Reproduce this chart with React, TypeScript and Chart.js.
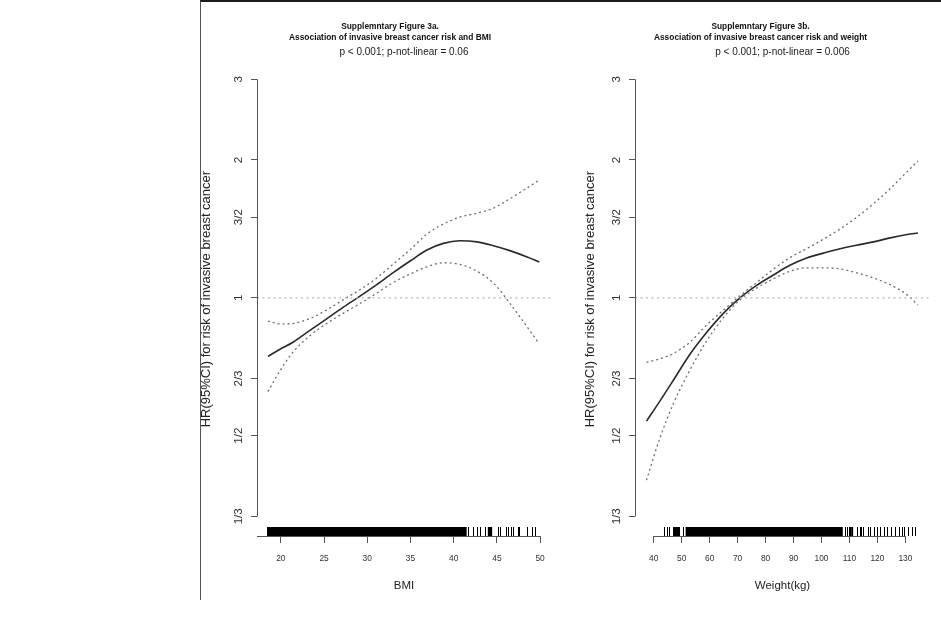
import { useEffect, useRef } from 'react';
import { Chart, registerables } from 'chart.js';

Chart.register(...registerables);

const FONT = '"Liberation Sans", Arial, Helvetica, sans-serif';

// ---- shared hazard-ratio axis (log scale) ----
const Y_TICKS = [1 / 3, 1 / 2, 2 / 3, 1, 3 / 2, 2, 3];
const Y_TICK_LABELS = ['1/3', '1/2', '2/3', '1', '3/2', '2', '3'];
const Y_MIN = 0.302;
const Y_MAX = 3.27;
const Y_TITLE = 'HR(95%CI) for risk of invasive breast cancer';
const REFERENCE_HR = 1;

// ---- panel a: BMI ----
const BMI = [18.5, 19.9, 21.4, 23.4, 25.3, 27.2, 29.2, 31.1, 33.0, 35.0, 36.9, 38.8, 40.7, 42.7, 44.6, 46.5, 48.5, 49.9];
const BMI_HR = [0.745, 0.772, 0.8, 0.85, 0.9, 0.953, 1.01, 1.069, 1.135, 1.205, 1.272, 1.315, 1.332, 1.325, 1.3, 1.268, 1.228, 1.197];
const BMI_UPPER = [0.89, 0.877, 0.879, 0.902, 0.941, 0.99, 1.043, 1.105, 1.185, 1.276, 1.378, 1.449, 1.5, 1.531, 1.57, 1.646, 1.738, 1.807];
const BMI_LOWER = [0.624, 0.693, 0.761, 0.828, 0.879, 0.925, 0.973, 1.024, 1.08, 1.128, 1.169, 1.193, 1.183, 1.143, 1.077, 0.973, 0.864, 0.794];
const BMI_TICKS = [20, 25, 30, 35, 40, 45, 50];
const BMI_MIN = 17.24;
const BMI_MAX = 51.26;
const BMI_RUG_BLOCKS = [[18.4, 41.5], [43.95, 44.45]];
const BMI_RUG_TICKS = [41.7, 42.2, 42.7, 43.1, 43.6, 45.1, 45.4, 46.1, 46.3, 46.6, 46.85, 47.4, 47.6, 48.5, 49.05, 49.4];
const BMI_TITLE = ['Supplemntary Figure 3a.', 'Association of invasive breast cancer risk and BMI'];
const BMI_SUBTITLE = 'p < 0.001; p-not-linear = 0.06';
const BMI_XTITLE = 'BMI';

// ---- panel b: weight ----
const WEIGHT = [37.4, 42.2, 46.9, 52.9, 58.9, 64.9, 70.8, 76.8, 82.8, 88.7, 94.7, 100.7, 106.6, 112.6, 118.6, 124.6, 130.6, 134.5];
const WEIGHT_HR = [0.538, 0.595, 0.659, 0.752, 0.84, 0.925, 1.0, 1.065, 1.122, 1.178, 1.222, 1.252, 1.28, 1.303, 1.325, 1.352, 1.375, 1.386];
const WEIGHT_UPPER = [0.723, 0.736, 0.755, 0.8, 0.872, 0.94, 1.01, 1.08, 1.155, 1.224, 1.281, 1.343, 1.413, 1.5, 1.605, 1.732, 1.885, 1.99];
const WEIGHT_LOWER = [0.4, 0.494, 0.585, 0.695, 0.805, 0.905, 0.99, 1.05, 1.1, 1.143, 1.163, 1.163, 1.157, 1.134, 1.105, 1.068, 1.015, 0.965];
const WEIGHT_TICKS = [40, 50, 60, 70, 80, 90, 100, 110, 120, 130];
const WEIGHT_MIN = 33.3;
const WEIGHT_MAX = 138.8;
const WEIGHT_RUG_BLOCKS = [[46.9, 49.4], [51.4, 107.6], [110.6, 111.3]];
const WEIGHT_RUG_TICKS = [43.6, 44.6, 45.5, 50.3, 108.5, 109.2, 109.7, 110.2, 112.65, 113.6, 114.3, 115.0, 116.45, 117.4, 118.6, 120.0, 121.0, 122.4, 123.6, 124.8, 126.4, 127.6, 128.8, 129.6, 131.1, 132.4, 133.5];
const WEIGHT_TITLE = ['Supplemntary Figure 3b.', 'Association of invasive breast cancer risk and weight'];
const WEIGHT_SUBTITLE = 'p < 0.001; p-not-linear = 0.006';
const WEIGHT_XTITLE = 'Weight(kg)';

type PanelDef = {
  x: number[];
  hr: number[];
  upper: number[];
  lower: number[];
  ticks: number[];
  min: number;
  max: number;
  rugBlocks: number[][];
  rugTicks: number[];
  title: string[];
  subtitle: string;
  xTitle: string;
  axisFromMin: boolean;
  layout: { yAxisWidth: number; gutter: number; yTitlePad: number; canvasWidth: number; left: number };
};

const PANEL_A: PanelDef = {
  x: BMI, hr: BMI_HR, upper: BMI_UPPER, lower: BMI_LOWER, ticks: BMI_TICKS,
  min: BMI_MIN, max: BMI_MAX, rugBlocks: BMI_RUG_BLOCKS, rugTicks: BMI_RUG_TICKS,
  title: BMI_TITLE, subtitle: BMI_SUBTITLE, xTitle: BMI_XTITLE, axisFromMin: true,
  layout: { yAxisWidth: 57, gutter: 29, yTitlePad: 0.8, canvasWidth: 380, left: 200 },
};

const PANEL_B: PanelDef = {
  x: WEIGHT, hr: WEIGHT_HR, upper: WEIGHT_UPPER, lower: WEIGHT_LOWER, ticks: WEIGHT_TICKS,
  min: WEIGHT_MIN, max: WEIGHT_MAX, rugBlocks: WEIGHT_RUG_BLOCKS, rugTicks: WEIGHT_RUG_TICKS,
  title: WEIGHT_TITLE, subtitle: WEIGHT_SUBTITLE, xTitle: WEIGHT_XTITLE, axisFromMin: false,
  layout: { yAxisWidth: 55, gutter: 11, yTitlePad: 4.8, canvasWidth: 361, left: 580 },
};

const CANVAS_H = 600;
const X_AXIS_H = 64;
const RUG_H = 9;
const AXIS_COLOR = '#555';

function makeRPlugin(p: PanelDef) {
  return {
    id: 'rStyle',
    afterDraw(chart: any) {
      const { ctx, chartArea } = chart;
      const xs = chart.scales.x;
      const ys = chart.scales.y;
      const bottom = chartArea.bottom;
      ctx.save();
      // rug of observations
      ctx.fillStyle = '#000';
      for (const [a, b] of p.rugBlocks) {
        const xa = xs.getPixelForValue(a);
        const xb = xs.getPixelForValue(b);
        ctx.fillRect(xa, bottom - RUG_H, xb - xa, RUG_H);
      }
      ctx.strokeStyle = '#000';
      ctx.lineWidth = 1;
      for (const v of p.rugTicks) {
        const px = Math.round(xs.getPixelForValue(v)) + 0.5;
        ctx.beginPath();
        ctx.moveTo(px, bottom - RUG_H);
        ctx.lineTo(px, bottom);
        ctx.stroke();
      }
      // R-style axis lines spanning the ticks
      ctx.strokeStyle = AXIS_COLOR;
      ctx.lineWidth = 1;
      const ax = Math.round(chartArea.left) + 0.5;
      ctx.beginPath();
      ctx.moveTo(ax, ys.getPixelForValue(Y_TICKS[Y_TICKS.length - 1]));
      ctx.lineTo(ax, ys.getPixelForValue(Y_TICKS[0]));
      ctx.stroke();
      const ay = Math.round(bottom) + 0.5;
      const xStart = p.axisFromMin ? xs.getPixelForValue(p.min) : xs.getPixelForValue(p.ticks[0]);
      ctx.beginPath();
      ctx.moveTo(xStart, ay);
      ctx.lineTo(xs.getPixelForValue(p.ticks[p.ticks.length - 1]), ay);
      ctx.stroke();
      ctx.restore();
    },
  };
}

function buildConfig(p: PanelDef): any {
  const pts = (ys: number[]) => p.x.map((x, i) => ({ x, y: ys[i] }));
  const dotted = {
    xAxisID: 'x',
    yAxisID: 'y',
    borderColor: '#6f6f6f',
    borderWidth: 1.3,
    borderDash: [2, 3],
    pointRadius: 0,
    cubicInterpolationMode: 'monotone',
    fill: false,
  };
  return {
    type: 'line',
    data: {
      datasets: [
        {
          label: 'reference',
          xAxisID: 'x',
          yAxisID: 'y',
          data: [{ x: p.min, y: REFERENCE_HR }, { x: p.max, y: REFERENCE_HR }],
          borderColor: '#b9b9b9',
          borderWidth: 1.2,
          borderDash: [2, 3.5],
          pointRadius: 0,
          tension: 0,
        },
        { label: 'upper 95% CI', data: pts(p.upper), ...dotted },
        { label: 'lower 95% CI', data: pts(p.lower), ...dotted },
        {
          label: 'HR',
          xAxisID: 'x',
          yAxisID: 'y',
          data: pts(p.hr),
          borderColor: '#2a2a2a',
          borderWidth: 1.6,
          pointRadius: 0,
          cubicInterpolationMode: 'monotone',
          fill: false,
        },
      ],
    },
    options: {
      animation: false,
      responsive: false,
      maintainAspectRatio: false,
      events: [],
      layout: { padding: 0 },
      plugins: {
        legend: { display: false },
        tooltip: { enabled: false },
        title: {
          display: true,
          text: p.title,
          color: '#111',
          font: { family: FONT, size: 8.4, weight: 'bold', lineHeight: 1.38 },
          padding: { top: 20.5, bottom: 0 },
        },
        subtitle: {
          display: true,
          text: p.subtitle,
          fullSize: false,
          color: '#222',
          font: { family: FONT, size: 10, lineHeight: 1.1 },
          padding: { top: 3.5, bottom: 4 },
        },
      },
      scales: {
        x: {
          type: 'linear',
          position: 'bottom',
          min: p.min,
          max: p.max,
          bounds: 'data',
          afterBuildTicks: (s: any) => {
            s.ticks = p.ticks.map((v) => ({ value: v }));
          },
          afterFit: (s: any) => {
            s.height = X_AXIS_H;
          },
          border: { display: false },
          grid: { display: true, drawOnChartArea: false, drawTicks: true, tickLength: 7, color: AXIS_COLOR, lineWidth: 1 },
          ticks: {
            autoSkip: false,
            maxRotation: 0,
            minRotation: 0,
            padding: 11,
            color: '#333',
            font: { family: FONT, size: 8.4 },
            callback: (v: number) => String(v),
          },
          title: {
            display: true,
            text: p.xTitle,
            color: '#222',
            font: { family: FONT, size: 11.5 },
            padding: { top: 0, bottom: 7 },
          },
        },
        y: {
          type: 'logarithmic',
          position: 'left',
          min: Y_MIN,
          max: Y_MAX,
          bounds: 'data',
          afterBuildTicks: (s: any) => {
            s.ticks = Y_TICKS.map((v) => ({ value: v }));
          },
          afterFit: (s: any) => {
            s.width = p.layout.yAxisWidth;
          },
          border: { display: false },
          grid: { display: true, drawOnChartArea: false, drawTicks: true, tickLength: 6, color: AXIS_COLOR, lineWidth: 1 },
          ticks: {
            autoSkip: false,
            minRotation: 90,
            maxRotation: 90,
            crossAlign: 'center',
            padding: 4,
            color: '#333',
            font: { family: FONT, size: 11.5 },
            callback: (_v: number, i: number) => Y_TICK_LABELS[i],
          },
          title: {
            display: true,
            text: Y_TITLE,
            color: '#222',
            font: { family: FONT, size: 13, lineHeight: 0.8 },
            padding: { top: p.layout.yTitlePad, bottom: 0 },
          },
        },
        gutter: {
          type: 'linear',
          position: 'right',
          display: true,
          afterFit: (s: any) => {
            s.width = p.layout.gutter;
          },
          border: { display: false },
          grid: { display: false },
          ticks: { display: false },
        },
      },
    },
    plugins: [makeRPlugin(p)],
  };
}

function Panel({ p }: { p: PanelDef }) {
  const ref = useRef<HTMLCanvasElement>(null);
  useEffect(() => {
    if (!ref.current) return;
    const chart = new Chart(ref.current, buildConfig(p));
    return () => chart.destroy();
  }, [p]);
  return (
    <canvas
      ref={ref}
      width={p.layout.canvasWidth}
      height={CANVAS_H}
      style={{ position: 'absolute', left: p.layout.left, top: 0, width: p.layout.canvasWidth, height: CANVAS_H }}
    />
  );
}

export default function App() {
  return (
    <div style={{ position: 'absolute', left: 0, top: 0, width: 941, height: 635, overflow: 'hidden', background: '#fff' }}>
      <div
        style={{
          position: 'absolute',
          left: 200,
          top: 0,
          width: 741,
          height: 600,
          borderTop: '2px solid #1c1c1c',
          borderLeft: '1px solid #555',
          boxSizing: 'border-box',
        }}
      />
      <Panel p={PANEL_A} />
      <Panel p={PANEL_B} />
    </div>
  );
}
